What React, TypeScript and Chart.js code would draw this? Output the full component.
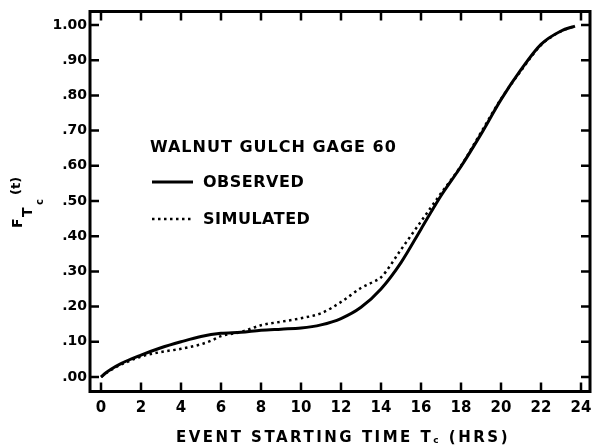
import React, { useEffect, useRef } from 'react';
import { Chart, registerables } from 'chart.js';

Chart.register(...registerables);

// ---- data ----
const hoursObserved = [0, 0.2, 0.5, 1, 2, 3, 4, 5, 6, 7, 8, 9, 10, 11, 12, 13, 14, 15, 16, 17, 18, 19, 20, 21, 22, 23, 23.7];
const observed = [0, 0.010, 0.022, 0.038, 0.062, 0.083, 0.100, 0.115, 0.124, 0.127, 0.133, 0.136, 0.139, 0.148, 0.166, 0.198, 0.250, 0.325, 0.420, 0.515, 0.598, 0.690, 0.788, 0.873, 0.945, 0.983, 0.997];

const hoursSimulated = [0, 0.2, 0.5, 1, 2, 3, 4, 5, 5.5, 6, 7, 8, 9, 10, 11, 12, 13, 13.6, 14, 15, 16, 17, 18, 19, 20, 21, 22, 23, 23.7];
const simulated = [0, 0.009, 0.020, 0.035, 0.058, 0.071, 0.080, 0.093, 0.103, 0.116, 0.128, 0.147, 0.157, 0.167, 0.181, 0.213, 0.253, 0.270, 0.283, 0.362, 0.442, 0.522, 0.600, 0.695, 0.790, 0.870, 0.943, 0.982, 0.997];

const xTicks = [0, 2, 4, 6, 8, 10, 12, 14, 16, 18, 20, 22, 24];
const yTicks = [0, 0.1, 0.2, 0.3, 0.4, 0.5, 0.6, 0.7, 0.8, 0.9, 1.0];

const legendTitle = 'WALNUT GULCH GAGE 60';
const seriesNames = ['OBSERVED', 'SIMULATED'];

const FONT = "'DejaVu Sans', sans-serif";

const fmtY = (v: number) => (Math.abs(v - 1) < 1e-9 ? '1.00' : '.' + String(Math.round(v * 100)).padStart(2, '0'));

const framePlugin = {
  id: 'frameDecor',
  afterDraw(chart: any) {
    const { ctx, chartArea: a, scales } = chart;
    const xs = scales.x;
    const ys = scales.y;
    ctx.save();
    ctx.strokeStyle = '#000';
    ctx.fillStyle = '#000';
    // frame
    ctx.lineWidth = 3;
    ctx.strokeRect(a.left, a.top, a.right - a.left, a.bottom - a.top);
    // inward ticks
    ctx.lineWidth = 2.5;
    const tl = 9;
    ctx.beginPath();
    xTicks.forEach((v) => {
      const px = xs.getPixelForValue(v);
      ctx.moveTo(px, a.bottom);
      ctx.lineTo(px, a.bottom - tl);
      ctx.moveTo(px, a.top);
      ctx.lineTo(px, a.top + tl);
    });
    yTicks.forEach((v) => {
      const py = ys.getPixelForValue(v);
      ctx.moveTo(a.left, py);
      ctx.lineTo(a.left + tl, py);
      ctx.moveTo(a.right, py);
      ctx.lineTo(a.right - tl, py);
    });
    ctx.stroke();

    // legend
    const ds0 = chart.data.datasets[0];
    const ds1 = chart.data.datasets[1];
    ctx.font = `bold 16px ${FONT}`;
    (ctx as any).letterSpacing = '1px';
    ctx.textBaseline = 'middle';
    ctx.textAlign = 'left';
    ctx.fillText(legendTitle, 150, 148);
    (ctx as any).letterSpacing = '0.5px';
    // observed sample
    ctx.lineWidth = ds0.borderWidth;
    ctx.setLineDash([]);
    ctx.beginPath();
    ctx.moveTo(152, 182);
    ctx.lineTo(193, 182);
    ctx.stroke();
    ctx.fillText(seriesNames[0], 203, 183);
    // simulated sample
    ctx.lineWidth = ds1.borderWidth;
    ctx.setLineDash(ds1.borderDash);
    ctx.beginPath();
    ctx.moveTo(152, 219);
    ctx.lineTo(193, 219);
    ctx.stroke();
    ctx.setLineDash([]);
    ctx.fillText(seriesNames[1], 203, 220);

    // x axis title with subscript
    ctx.textBaseline = 'alphabetic';
    (ctx as any).letterSpacing = '2.5px';
    const big = `bold 15px ${FONT}`;
    const small = `bold 9px ${FONT}`;
    const p1 = 'EVENT STARTING TIME T';
    const p2 = 'c';
    const p3 = ' (HRS)';
    ctx.font = big;
    const w1 = ctx.measureText(p1).width;
    const w3 = ctx.measureText(p3).width;
    ctx.font = small;
    const w2 = ctx.measureText(p2).width;
    const total = w1 + w2 + w3;
    let x0 = (a.left + a.right) / 2 + 3 - total / 2;
    const base = 442;
    ctx.font = big;
    ctx.fillText(p1, x0, base);
    x0 += w1;
    ctx.font = small;
    ctx.fillText(p2, x0, base + 1);
    x0 += w2;
    ctx.font = big;
    ctx.fillText(p3, x0, base);

    // y axis title F_{T_c}(t), rotated
    (ctx as any).letterSpacing = '0px';
    ctx.translate(22, 228);
    ctx.rotate(-Math.PI / 2);
    ctx.font = `bold 14px ${FONT}`;
    ctx.fillText('F', 0, 0);
    ctx.font = `bold 14px ${FONT}`;
    ctx.fillText('T', 11, 10);
    ctx.font = `bold 10px ${FONT}`;
    ctx.fillText('c', 23, 21);
    ctx.font = `bold 13px ${FONT}`;
    ctx.fillText('(t)', 33, -2);
    ctx.restore();
  },
};

export default function App() {
  const ref = useRef<HTMLCanvasElement | null>(null);
  useEffect(() => {
    if (!ref.current) return;
    const chart = new Chart(ref.current, {
      type: 'line',
      data: {
        datasets: [
          {
            label: seriesNames[0],
            data: hoursObserved.map((x, i) => ({ x, y: observed[i] })),
            borderColor: '#000',
            borderWidth: 3,
            pointRadius: 0,
            tension: 0.4,
            cubicInterpolationMode: 'monotone',
            fill: false,
          },
          {
            label: seriesNames[1],
            data: hoursSimulated.map((x, i) => ({ x, y: simulated[i] })),
            borderColor: '#000',
            borderWidth: 2.5,
            borderDash: [2.5, 3.5],
            pointRadius: 0,
            tension: 0.4,
            cubicInterpolationMode: 'monotone',
            fill: false,
          },
        ],
      },
      options: {
        animation: false,
        responsive: false,
        devicePixelRatio: 1,
        layout: { padding: { top: 11.5, right: 2, left: 0, bottom: 0 } },
        plugins: { legend: { display: false }, tooltip: { enabled: false }, title: { display: false } },
        scales: {
          x: {
            type: 'linear',
            min: -0.55,
            max: 24.45,
            grid: { display: false, drawTicks: false },
            border: { display: false },
            afterBuildTicks: (s: any) => {
              s.ticks = xTicks.map((v) => ({ value: v }));
            },
            afterFit: (s: any) => {
              s.height = 53.5;
              s.paddingLeft = 0;
              s.paddingRight = 0;
            },
            ticks: {
              autoSkip: false,
              maxRotation: 0,
              padding: 8,
              color: '#000',
              font: { family: FONT, size: 15, weight: 'bold' },
              callback: (v: any) => String(v),
            },
          },
          y: {
            type: 'linear',
            min: -0.0412,
            max: 1.0384,
            grid: { display: false, drawTicks: false },
            border: { display: false },
            afterBuildTicks: (s: any) => {
              s.ticks = yTicks.map((v) => ({ value: v }));
            },
            afterFit: (s: any) => {
              s.width = 90;
              s.paddingTop = 0;
              s.paddingBottom = 0;
            },
            ticks: {
              autoSkip: false,
              padding: 3,
              color: '#000',
              font: { family: FONT, size: 14, weight: 'bold' },
              callback: (v: any) => fmtY(Number(v)),
            },
          },
        },
      } as any,
      plugins: [framePlugin],
    });
    return () => chart.destroy();
  }, []);
  return (
    <div style={{ position: 'fixed', left: 0, top: 0, width: 592, height: 445, background: '#fff' }}>
      <canvas ref={ref} width={592} height={445} style={{ display: 'block' }} />
    </div>
  );
}
